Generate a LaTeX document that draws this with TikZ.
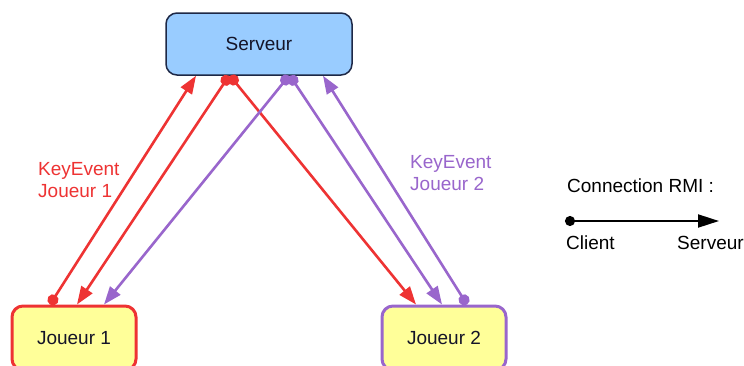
\documentclass[tikz,border=0pt]{standalone}
\usepackage{fontspec}
\setmainfont{Liberation Sans}
\usetikzlibrary{arrows.meta}
\definecolor{linkred}{RGB}{238,51,51}
\definecolor{linkpurple}{RGB}{153,102,204}
\definecolor{srvfill}{RGB}{153,204,255}
\definecolor{srvedge}{RGB}{30,40,70}
\definecolor{plfill}{RGB}{255,255,153}
\definecolor{boxtext}{RGB}{20,20,40}

\begin{document}
\begin{tikzpicture}[x=1pt,y=-1pt,
  txt/.style={font=\fontsize{19}{22}\selectfont},
  srvbox/.style={txt, draw=srvedge, line width=1.5pt, fill=srvfill,
    rounded corners=11pt, minimum width=186pt, minimum height=62pt,
    inner sep=0pt, text=boxtext},
  plbox/.style={txt, fill=plfill, line width=3pt, rounded corners=11pt,
    minimum width=124pt, minimum height=64pt, inner sep=0pt, text=boxtext},
  rmi/.style={line width=2.6pt,
    {Circle[length=11pt]}-{Triangle[length=18pt,width=13pt]}},
  lbl/.style={txt, anchor=north west, align=left, inner sep=0pt}]

\useasboundingbox (0,0) rectangle (744,365);
\fill[white] (0,0) rectangle (744,365);
\clip (0,0) rectangle (744,365);

% boxes
\node[srvbox] (srv) at (259,44) {Serveur};
\node[plbox, draw=linkred] (j1) at (74,338) {Joueur 1};
\node[plbox, draw=linkpurple] (j2) at (444,338) {Joueur 2};

% connector end points on the box borders
\coordinate (j1a) at ([xshift=-24pt]j1.north);
\coordinate (j1b) at ([xshift=3pt]j1.north);
\coordinate (j1c) at ([xshift=30pt]j1.north);
\coordinate (j2a) at ([xshift=-28pt]j2.north);
\coordinate (j2b) at ([xshift=-2pt]j2.north);
\coordinate (j2c) at ([xshift=23pt]j2.north);
\coordinate (sa) at ([xshift=-63pt]srv.south);
\coordinate (sb) at ([xshift=-30pt]srv.south);
\coordinate (sc) at ([xshift=-29pt]srv.south);
\coordinate (sd) at ([xshift=30pt]srv.south);
\coordinate (se) at ([xshift=31pt]srv.south);
\coordinate (sf) at ([xshift=64pt]srv.south);

% RMI links
\draw[rmi, linkred] (j1a) -- (sa);
\draw[rmi, linkred] (sb) -- (j1b);
\draw[rmi, linkred] (sc) -- (j2a);
\draw[rmi, linkpurple] (sd) -- (j1c);
\draw[rmi, linkpurple] (se) -- (j2b);
\draw[rmi, linkpurple] (j2c) -- (sf);

% labels
\node[lbl, text=linkred] (k1) at (38,162) {KeyEvent\\Joueur 1};
\node[lbl, text=linkpurple] (k2) at (410,155) {KeyEvent\\Joueur 2};

% legend
\node[txt, anchor=west, inner sep=0pt] (leg) at (567,186) {Connection RMI :};
\coordinate (lcli) at (565,221);
\coordinate (lsrv) at (719,221);
\draw[line width=2pt, {Circle[length=10pt]}-{Triangle[length=21pt,width=13pt]}] (lcli) -- (lsrv);
\node[txt, anchor=base west, inner sep=0pt] (cli) at (566,249) {Client};
\node[txt, anchor=base west, inner sep=0pt] (srvl) at (677,249) {Serveur};
\end{tikzpicture}
\end{document}
